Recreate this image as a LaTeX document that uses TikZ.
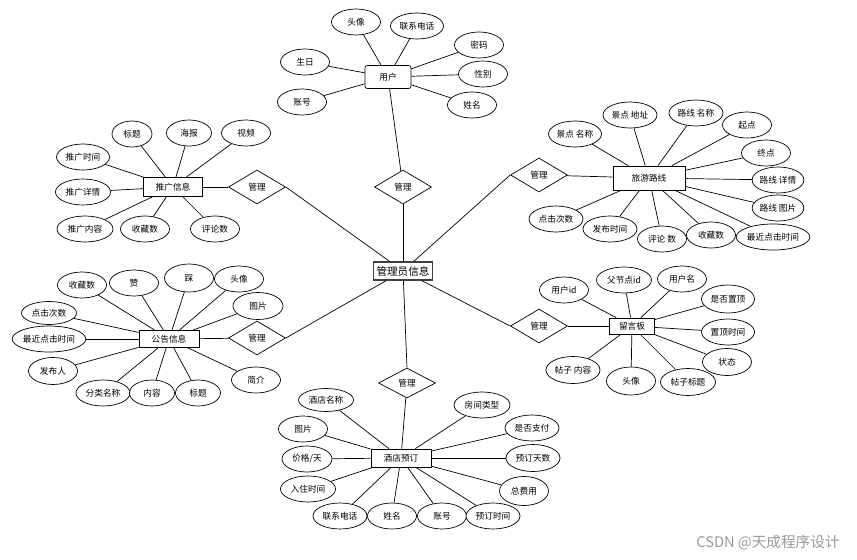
\documentclass[tikz,border=0pt]{standalone}
\usepackage{fontspec}
\setmainfont{Noto Sans CJK SC}
\usetikzlibrary{shapes.geometric}

\begin{document}
\begin{tikzpicture}[x=0.03cm,y=-0.03cm,line width=0.6pt]
		\tikzstyle{attr}=[ellipse,draw,inner sep=0pt,fill=white,
		minimum width=1.47cm,minimum height=0.78cm,font=\fontsize{7.4}{8}\selectfont]
		\tikzstyle{ent}=[rectangle,draw,semithick,inner sep=0pt,fill=white,
		minimum width=1.8cm,minimum height=0.54cm,font=\fontsize{7.4}{8}\selectfont]
		\tikzstyle{rel}=[diamond,draw,inner sep=0pt,fill=white,
		minimum width=1.71cm,minimum height=1.02cm,font=\fontsize{7.4}{8}\selectfont]
		\useasboundingbox (0,0) rectangle (857,560);
		% entities
		\node[ent,rounded corners=2pt,minimum width=1.38cm,minimum height=0.69cm] (user) at (388,77) {用户};
		\node[ent,minimum width=1.77cm,minimum height=0.57cm] (promo) at (173,187) {推广信息};
		\node[ent,minimum width=2.16cm,minimum height=0.72cm] (route) at (649,178) {旅游路线};
		\node[ent,minimum height=0.51cm] (notice) at (169,339) {公告信息};
		\node[ent,minimum width=1.35cm,minimum height=0.48cm] (board) at (632,326) {留言板};
		\node[ent] (hotel) at (401,458) {酒店预订};
		\node[ent,draw=black!75,line width=1.1pt,minimum width=1.77cm,
		font=\fontsize{9}{10}\selectfont] (admin) at (403,271) {管理员信息};
		% relations
		\node[rel] (mUser)   at (403,187) {管理};
		\node[rel] (mPromo)  at (257,187) {管理};
		\node[rel] (mNotice) at (257,338) {管理};
		\node[rel] (mRoute)  at (539,175) {管理};
		\node[rel] (mBoard)  at (539,326) {管理};
		\node[rel,minimum height=0.9cm] (mHotel) at (407,383) {管理};
		% user attributes
		\node[attr] (uHead)  at (356,22)  {头像};
		\node[attr,minimum width=1.59cm] (uTel) at (417,26) {联系电话};
		\node[attr] (uPwd)   at (479,45)  {密码};
		\node[attr] (uSex)   at (483,74)  {性别};
		\node[attr] (uName)  at (472,105) {姓名};
		\node[attr] (uBirth) at (305,62)  {生日};
		\node[attr] (uAcc)   at (302,102) {账号};
		% promo attributes
		\node[attr,minimum width=1.2cm] (pTitle) at (132,134) {标题};
		\node[attr,minimum width=1.35cm] (pPost) at (189,133) {海报};
		\node[attr] (pVideo) at (246,133) {视频};
		\node[attr,minimum width=1.59cm] (pTime) at (83,157)  {推广时间};
		\node[attr,minimum width=1.65cm] (pDet)  at (83,192)  {推广详情};
		\node[attr,minimum width=1.68cm] (pCont) at (85,229)  {推广内容};
		\node[attr] (pFav)   at (145,229) {收藏数};
		\node[attr] (pCom)   at (215,229) {评论数};
		% route attributes
		\node[attr,minimum width=1.59cm] (rSpot)  at (575,134) {景点 名称};
		\node[attr,minimum width=1.62cm] (rAddr)  at (630,115) {景点 地址};
		\node[attr,minimum width=1.62cm] (rName)  at (696,113) {路线 名称};
		\node[attr] (rStart) at (747,125) {起点};
		\node[attr] (rEnd)   at (766,153) {终点};
		\node[attr] (rDet)   at (778,180) {路线 详情};
		\node[attr] (rPic)   at (778,208) {路线 图片};
		\node[attr,minimum width=2.19cm] (rLast) at (773,237) {最近点击时间};
		\node[attr] (rFav)   at (711,235) {收藏数};
		\node[attr] (rCom)   at (662,239) {评论 数};
		\node[attr,minimum width=1.62cm] (rPub)   at (610,229) {发布时间};
		\node[attr,minimum width=1.62cm] (rClick) at (556,219) {点击次数};
		% notice attributes
		\node[attr] (nFav)   at (82,285)  {收藏数};
		\node[attr] (nUp)    at (134,283) {赞};
		\node[attr,minimum height=0.84cm] (nDown) at (189,278) {踩};
		\node[attr] (nHead)  at (239,279) {头像};
		\node[attr,minimum width=1.5cm,minimum height=0.81cm] (nPic) at (258,306) {图片};
		\node[attr,minimum width=1.65cm,minimum height=0.69cm] (nClick) at (49,313) {点击次数};
		\node[attr,minimum width=2.16cm] (nLast) at (49,339) {最近点击时间};
		\node[attr,minimum height=0.81cm] (nPub) at (53,371) {发布人};
		\node[attr,minimum width=1.62cm] (nCat)  at (103,393) {分类名称};
		\node[attr,minimum width=1.35cm] (nCont) at (152,393) {内容};
		\node[attr,minimum width=1.35cm] (nTitle) at (198,393) {标题};
		\node[attr] (nIntro) at (256,380) {简介};
		% board attributes
		\node[attr] (bUid)   at (564,290) {用户id};
		\node[attr,minimum width=1.65cm] (bPid) at (624,280) {父节点id};
		\node[attr] (bUser)  at (682,279) {用户名};
		\node[attr,minimum width=1.59cm,minimum height=0.84cm] (bTop) at (728,299) {是否置顶};
		\node[attr,minimum width=1.59cm] (bTopT) at (728,332) {置顶时间};
		\node[attr,minimum height=0.81cm] (bState) at (727,362) {状态};
		\node[attr,minimum width=1.65cm,minimum height=0.81cm] (bTitle) at (688,382) {帖子标题};
		\node[attr,minimum height=0.84cm] (bHead) at (631,381) {头像};
		\node[attr,minimum width=1.62cm,minimum height=0.81cm] (bCont) at (573,370) {帖子 内容};
		% hotel attributes
		\node[attr,minimum width=1.65cm,minimum height=0.69cm] (hName) at (326,400) {酒店名称};
		\node[attr] (hPic)   at (303,429) {图片};
		\node[attr,minimum width=1.5cm] (hPrice) at (307,459) {价格/天};
		\node[attr,minimum width=1.65cm] (hIn)   at (308,489) {入住时间};
		\node[attr,minimum width=1.62cm] (hTel)  at (340,516) {联系电话};
		\node[attr] (hGuest) at (392,516) {姓名};
		\node[attr] (hAcc)   at (442,516) {账号};
		\node[attr,minimum width=1.62cm] (hTime) at (493,516) {预订时间};
		\node[attr,minimum width=1.68cm] (hRoom) at (482,405) {房间类型};
		\node[attr,minimum width=1.62cm] (hPay)  at (532,428) {是否支付};
		\node[attr,minimum width=1.62cm,minimum height=0.81cm] (hDays) at (533,458) {预订天数};
		\node[attr,minimum height=0.87cm] (hCost) at (524,491) {总费用};
		% connectors
		\foreach \a in {uHead,uTel,uPwd,uSex,uName,uBirth,uAcc}
		\draw (user) -- (\a);
		\foreach \a in {pTitle,pPost,pVideo,pTime,pDet,pCont,pFav,pCom}
		\draw (promo) -- (\a);
		\foreach \a in {rSpot,rAddr,rName,rStart,rEnd,rDet,rPic,rLast,rFav,rCom,rPub,rClick}
		\draw (route) -- (\a);
		\foreach \a in {nFav,nUp,nDown,nHead,nPic,nClick,nLast,nPub,nCat,nCont,nTitle,nIntro}
		\draw (notice) -- (\a);
		\foreach \a in {bUid,bPid,bUser,bTop,bTopT,bState,bTitle,bHead,bCont}
		\draw (board) -- (\a);
		\foreach \a in {hName,hPic,hPrice,hIn,hTel,hGuest,hAcc,hTime,hRoom,hPay,hDays,hCost}
		\draw (hotel) -- (\a);
		\draw (user) -- (mUser);
		\draw (mUser) -- (admin);
		\draw (promo) -- (mPromo);
		\draw (mPromo.east) -- (admin);
		\draw (notice) -- (mNotice);
		\draw (mNotice.east) -- (admin);
		\draw (mRoute) -- (route);
		\draw (mRoute.west) -- (admin);
		\draw (mBoard) -- (board);
		\draw (mBoard.west) -- (admin);
		\draw (mHotel) -- (hotel);
		\draw (mHotel.north) -- (admin);
		% watermark
		\node[text=black!40,font=\fontsize{12.5}{14}\selectfont] (mark) at (768,543) {CSDN @天成程序设计};
	\end{tikzpicture}
\end{document}
